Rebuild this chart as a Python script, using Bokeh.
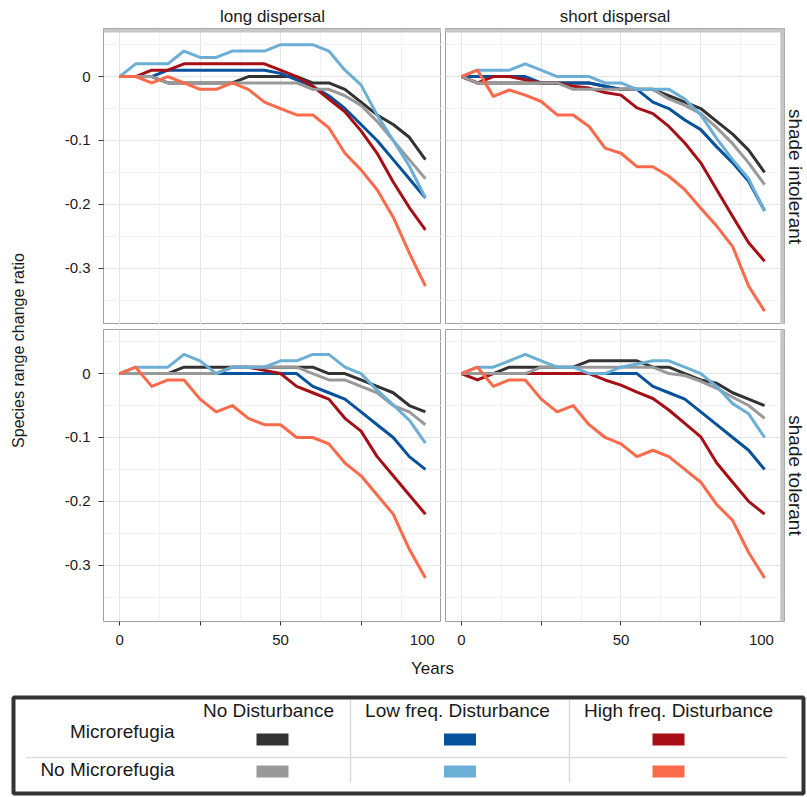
import math
from bokeh.plotting import figure
from bokeh.models import Range1d, FixedTicker, Title, BoxAnnotation
from bokeh.layouts import row, column
from bokeh.embed import file_html
from bokeh.resources import INLINE
from bokeh.core.properties import value

# ---------------- data ----------------
YEARS = [0, 5, 10, 15, 20, 25, 30, 35, 40, 45, 50, 55, 60, 65, 70, 75, 80, 85, 90, 95]

DISPERSAL = ["long dispersal", "short dispersal"]
SHADE = ["shade intolerant", "shade tolerant"]
DISTURBANCE = ["No Disturbance", "Low freq. Disturbance", "High freq. Disturbance"]
REFUGIA = ["Microrefugia", "No Microrefugia"]

COLORS = {
    ("Microrefugia", "No Disturbance"): "#333333",
    ("Microrefugia", "Low freq. Disturbance"): "#08519c",
    ("Microrefugia", "High freq. Disturbance"): "#a50f15",
    ("No Microrefugia", "No Disturbance"): "#999999",
    ("No Microrefugia", "Low freq. Disturbance"): "#6baed6",
    ("No Microrefugia", "High freq. Disturbance"): "#fb6a4a",
}

# long dispersal / shade intolerant
LI_MR_ND = [0, 0, 0, -0.01, -0.01, -0.01, -0.01, -0.01, 0, 0, 0, 0, -0.01, -0.01, -0.02, -0.04, -0.06, -0.075, -0.095, -0.13]
LI_MR_LD = [0, 0, 0, 0.01, 0.01, 0.01, 0.01, 0.01, 0.01, 0.01, 0.005, -0.005, -0.015, -0.03, -0.05, -0.075, -0.10, -0.13, -0.16, -0.19]
LI_MR_HD = [0, 0, 0.01, 0.01, 0.02, 0.02, 0.02, 0.02, 0.02, 0.02, 0.01, 0, -0.015, -0.035, -0.055, -0.085, -0.12, -0.165, -0.205, -0.24]
LI_NM_ND = [0, 0, 0, -0.01, -0.01, -0.01, -0.01, -0.01, -0.01, -0.01, -0.01, -0.01, -0.02, -0.02, -0.03, -0.045, -0.07, -0.10, -0.13, -0.16]
LI_NM_LD = [0, 0.02, 0.02, 0.02, 0.04, 0.03, 0.03, 0.04, 0.04, 0.04, 0.05, 0.05, 0.05, 0.04, 0.01, -0.013, -0.06, -0.10, -0.14, -0.19]
LI_NM_HD = [0, 0, -0.01, 0, -0.01, -0.02, -0.02, -0.01, -0.02, -0.04, -0.05, -0.06, -0.06, -0.08, -0.12, -0.146, -0.177, -0.22, -0.276, -0.328]

# short dispersal / shade intolerant
SI_MR_ND = [0, -0.01, -0.01, -0.01, -0.01, -0.01, -0.01, -0.01, -0.01, -0.015, -0.02, -0.02, -0.02, -0.03, -0.04, -0.05, -0.07, -0.09, -0.115, -0.15]
SI_MR_LD = [0, 0, 0, 0, 0, -0.01, -0.01, -0.01, -0.01, -0.015, -0.02, -0.02, -0.04, -0.05, -0.068, -0.083, -0.11, -0.135, -0.164, -0.21]
SI_MR_HD = [0, -0.01, 0, 0, -0.005, -0.01, -0.01, -0.015, -0.018, -0.025, -0.029, -0.049, -0.058, -0.078, -0.104, -0.135, -0.177, -0.219, -0.26, -0.289]
SI_NM_ND = [0, -0.01, -0.01, -0.01, -0.01, -0.01, -0.01, -0.02, -0.02, -0.02, -0.02, -0.02, -0.02, -0.035, -0.045, -0.058, -0.08, -0.105, -0.135, -0.169]
SI_NM_LD = [0, 0.01, 0.01, 0.01, 0.02, 0.01, 0, 0, 0, -0.01, -0.01, -0.02, -0.02, -0.02, -0.035, -0.06, -0.097, -0.13, -0.16, -0.21]
SI_NM_HD = [0, 0.01, -0.031, -0.021, -0.029, -0.039, -0.06, -0.06, -0.078, -0.112, -0.12, -0.141, -0.141, -0.156, -0.177, -0.206, -0.234, -0.266, -0.328, -0.367]

# long dispersal / shade tolerant
LT_MR_ND = [0, 0, 0, 0, 0.01, 0.01, 0.01, 0.01, 0.01, 0.01, 0.01, 0.01, 0.01, 0, 0, -0.01, -0.02, -0.03, -0.05, -0.06]
LT_MR_LD = [0, 0, 0, 0, 0, 0, 0, 0, 0, 0, 0, 0, -0.02, -0.03, -0.04, -0.06, -0.08, -0.10, -0.13, -0.15]
LT_MR_HD = [0, 0, 0, 0, 0, 0, 0, 0.01, 0.01, 0.005, 0, -0.02, -0.03, -0.04, -0.07, -0.09, -0.13, -0.16, -0.19, -0.22]
LT_NM_ND = [0, 0, 0, 0, 0, 0, 0, 0.01, 0.01, 0.01, 0.01, 0.01, 0, -0.01, -0.01, -0.02, -0.03, -0.05, -0.06, -0.08]
LT_NM_LD = [0, 0.01, 0.01, 0.01, 0.03, 0.02, 0, 0.01, 0.01, 0.01, 0.02, 0.02, 0.03, 0.03, 0.01, 0, -0.026, -0.049, -0.073, -0.109]
LT_NM_HD = [0, 0.01, -0.02, -0.01, -0.01, -0.04, -0.06, -0.05, -0.07, -0.08, -0.08, -0.10, -0.10, -0.11, -0.14, -0.16, -0.19, -0.22, -0.275, -0.32]

# short dispersal / shade tolerant
ST_MR_ND = [0, 0, 0, 0.01, 0.01, 0.01, 0.01, 0.01, 0.02, 0.02, 0.02, 0.02, 0.01, 0.01, 0, -0.01, -0.015, -0.03, -0.04, -0.05]
ST_MR_LD = [0, 0, 0, 0, 0, 0, 0, 0, 0, 0, 0, 0, -0.02, -0.03, -0.04, -0.06, -0.08, -0.10, -0.12, -0.15]
ST_MR_HD = [0, -0.01, 0, 0, 0, 0, 0, 0, 0, -0.01, -0.018, -0.029, -0.039, -0.057, -0.078, -0.099, -0.14, -0.17, -0.20, -0.22]
ST_NM_ND = [0, 0, 0, 0, 0, 0.01, 0.01, 0.01, 0.01, 0.01, 0.01, 0.01, 0.01, 0, -0.003, -0.012, -0.023, -0.037, -0.05, -0.07]
ST_NM_LD = [0, 0.01, 0.01, 0.02, 0.03, 0.02, 0.01, 0.01, 0, 0, 0.01, 0.015, 0.02, 0.02, 0.01, 0, -0.02, -0.047, -0.063, -0.10]
ST_NM_HD = [0, 0.01, -0.02, -0.01, -0.01, -0.04, -0.06, -0.05, -0.08, -0.10, -0.11, -0.13, -0.12, -0.13, -0.15, -0.17, -0.205, -0.23, -0.28, -0.32]

PANEL_DATA = {
    ("long dispersal", "shade intolerant"): [LI_MR_ND, LI_MR_LD, LI_MR_HD, LI_NM_ND, LI_NM_LD, LI_NM_HD],
    ("short dispersal", "shade intolerant"): [SI_MR_ND, SI_MR_LD, SI_MR_HD, SI_NM_ND, SI_NM_LD, SI_NM_HD],
    ("long dispersal", "shade tolerant"): [LT_MR_ND, LT_MR_LD, LT_MR_HD, LT_NM_ND, LT_NM_LD, LT_NM_HD],
    ("short dispersal", "shade tolerant"): [ST_MR_ND, ST_MR_LD, ST_MR_HD, ST_NM_ND, ST_NM_LD, ST_NM_HD],
}
SERIES_ORDER = [(r, d) for r in REFUGIA for d in DISTURBANCE]

X_TICKS = [0, 50, 94]
X_TICK_LABELS = {0: "0", 50: "50", 94: "100"}
X_MINOR_TICKS = [0, 25, 50, 75]
Y_TICKS = [-0.3, -0.2, -0.1, 0]
Y_TICK_LABELS = {-0.3: "-0.3", -0.2: "-0.2", -0.1: "-0.1", 0: "0"}

X_LABEL = "Years"
Y_LABEL = "Species range change ratio"

# ---------------- style / layout ----------------
FONT = "Liberation Sans"
TXT = "#1a1a1a"
X_RANGE = (-5, 100)
Y_RANGE = (-0.388, 0.069)
PX_PER_YEAR = 338 / 105.0
PX_PER_UNIT = 292 / (Y_RANGE[1] - Y_RANGE[0])
BAND = 4
BAND_COLOR = "#c6c6c6"

COL_W = [30, 411, 366]
ROW_H = [324, 331]
LEG_H = 142


def make_panel(r, c):
    disp = DISPERSAL[c]
    shade = SHADE[r]
    top = r == 0
    right = c == 1
    x_end = X_RANGE[1] + (BAND / PX_PER_YEAR if right else 0)
    y_end = Y_RANGE[1] + (BAND / PX_PER_UNIT if top else 0)
    p = figure(
        width=COL_W[c + 1], height=ROW_H[r],
        x_range=Range1d(X_RANGE[0], x_end), y_range=Range1d(Y_RANGE[0], y_end),
        output_backend="svg", toolbar_location=None,
        x_axis_location=None if top else "below",
        y_axis_location="left" if c == 0 else None,
        min_border_left=73 if c == 0 else 4,
        min_border_right=20 if right else 0,
        min_border_top=28 if top else 5,
        min_border_bottom=0 if top else 34,
    )
    p.background_fill_color = "white"
    p.border_fill_color = "white"
    p.outline_line_color = "#a0a0a0"
    p.outline_line_width = 1

    p.xgrid.ticker = FixedTicker(ticks=[0, 25, 50, 75, 100], minor_ticks=[12.5, 37.5, 62.5, 87.5])
    p.ygrid.ticker = FixedTicker(ticks=[-0.3, -0.2, -0.1, 0], minor_ticks=[-0.35, -0.25, -0.15, -0.05, 0.05])
    for g in (p.xgrid, p.ygrid):
        g.grid_line_color = "#e4e4e4"
        g.grid_line_width = 1
        g.minor_grid_line_color = "#f2f2f2"
        g.minor_grid_line_width = 1

    if not top:
        ax = p.xaxis[0]
        ax.ticker = FixedTicker(ticks=X_TICKS, minor_ticks=X_MINOR_TICKS)
        ax.major_label_overrides = X_TICK_LABELS
        ax.axis_line_color = None
        ax.major_tick_line_color = None
        ax.major_tick_out = 4
        ax.major_tick_in = 0
        ax.minor_tick_line_color = "#333333"
        ax.minor_tick_out = 4
        ax.minor_tick_in = 0
        ax.major_label_standoff = 9
        ax.major_label_text_font = FONT
        ax.major_label_text_font_size = "15px"
        ax.major_label_text_color = TXT
    if c == 0:
        ay = p.yaxis[0]
        ay.ticker = FixedTicker(ticks=Y_TICKS)
        ay.major_label_overrides = Y_TICK_LABELS
        ay.axis_line_color = None
        ay.major_tick_line_color = "#333333"
        ay.major_tick_out = 5
        ay.major_tick_in = 0
        ay.minor_tick_line_color = None
        ay.major_label_standoff = 8
        ay.major_label_text_font = FONT
        ay.major_label_text_font_size = "15px"
        ay.major_label_text_color = TXT

    if top:
        p.title.text = disp
        p.title.align = "center"
        p.title.text_font = FONT
        p.title.text_font_size = "17px"
        p.title.text_font_style = "normal"
        p.title.text_color = TXT
        p.title.standoff = 5
        p.add_layout(BoxAnnotation(bottom=Y_RANGE[1], fill_color=BAND_COLOR, fill_alpha=1.0,
                                   line_color=None, level="overlay"))
    if right:
        t = Title(text=shade, align="center", text_font=FONT, text_font_size="19px",
                  text_font_style="normal", text_color=TXT, standoff=0)
        p.add_layout(t, "right")
        p.add_layout(BoxAnnotation(left=X_RANGE[1], fill_color=BAND_COLOR, fill_alpha=1.0,
                                   line_color=None, level="overlay"))

    for key, ys in zip(SERIES_ORDER, PANEL_DATA[(disp, shade)]):
        p.line(YEARS, ys, line_color=COLORS[key], line_width=3, line_join="round")
    return p


panels = {(r, c): make_panel(r, c) for r in range(2) for c in range(2)}

# shared y-axis title
yt_h = ROW_H[0] + ROW_H[1]
ytitle = figure(width=COL_W[0], height=yt_h, x_range=Range1d(0, COL_W[0]), y_range=Range1d(yt_h, 0),
                output_backend="svg", toolbar_location=None, x_axis_location=None, y_axis_location=None,
                min_border_left=0, min_border_right=0, min_border_top=0, min_border_bottom=0)
ytitle.grid.visible = False
ytitle.outline_line_color = None
ytitle.text(x=[18], y=[350], text=[Y_LABEL], angle=math.pi / 2, text_align="center",
            text_baseline="middle", text_font=value(FONT), text_font_size="16px", text_color=TXT)

# x-axis title + legend table
leg_w = sum(COL_W)
leg = figure(width=leg_w, height=LEG_H, x_range=Range1d(0, leg_w), y_range=Range1d(LEG_H, 0),
             output_backend="svg", toolbar_location=None, x_axis_location=None, y_axis_location=None,
             min_border_left=0, min_border_right=0, min_border_top=0, min_border_bottom=0)
leg.grid.visible = False
leg.outline_line_color = None
leg.text(x=[432], y=[13], text=[X_LABEL], text_align="center", text_baseline="middle",
         text_font=value(FONT), text_font_size="17px", text_color=TXT)

COL_CENTERS = [268, 457, 678]
SWATCH_X = [272, 459.5, 668]
ROW_Y_LABEL = [76, 114]
ROW_Y_SWATCH = [84, 116]
HEADER_Y = 55
LABEL_RIGHT = 174

leg.segment(x0=[26], y0=[102], x1=[786], y1=[102], line_color="#dcdcdc", line_width=1.5)
leg.segment(x0=[350, 569], y0=[44, 44], x1=[350, 569], y1=[127, 127],
            line_color="#dcdcdc", line_width=1.5)
leg.rect(x=[408], y=[90], width=790, height=96, fill_color=None, line_color="#333333", line_width=4)
leg.text(x=COL_CENTERS, y=[HEADER_Y] * 3, text=DISTURBANCE, text_align="center", text_baseline="middle",
         text_font=value(FONT), text_font_size="19px", text_color=TXT)
leg.text(x=[LABEL_RIGHT] * 2, y=ROW_Y_LABEL, text=REFUGIA, text_align="right", text_baseline="middle",
         text_font=value(FONT), text_font_size="19px", text_color=TXT)
sx, sy, sc = [], [], []
for ri, rname in enumerate(REFUGIA):
    for di, d in enumerate(DISTURBANCE):
        sx.append(SWATCH_X[di])
        sy.append(ROW_Y_SWATCH[ri])
        sc.append(COLORS[(rname, d)])
leg.rect(x=sx, y=sy, width=32, height=12, fill_color=sc, line_color=None)

panel_block = column(row(panels[(0, 0)], panels[(0, 1)]), row(panels[(1, 0)], panels[(1, 1)]))
layout = column(row(ytitle, panel_block), leg)

open("out.html", "w").write(file_html(layout, INLINE))
